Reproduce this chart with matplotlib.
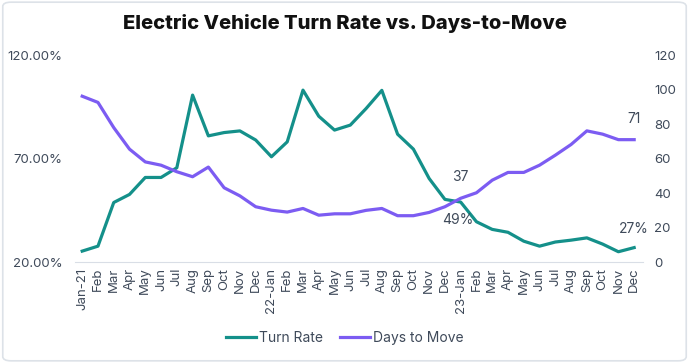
import matplotlib
matplotlib.use("Agg")
import matplotlib.pyplot as plt
from matplotlib.patches import FancyBboxPatch

plt.rcParams['font.family'] = ['Inter', 'DejaVu Sans']

# month labels, Jan-21 .. Dec-23
months = ["Jan-21", "Feb", "Mar", "Apr", "May", "Jun", "Jul", "Aug", "Sep", "Oct", "Nov", "Dec",
          "22-Jan", "Feb", "Mar", "Apr", "May", "Jun", "Jul", "Aug", "Sep", "Oct", "Nov", "Dec",
          "23-Jan", "Feb", "Mar", "Apr", "May", "Jun", "Jul", "Aug", "Sep", "Oct", "Nov", "Dec"]

# turn rate in percent (left axis)
turn_rate = [25.3, 27.7, 48.8, 52.7, 60.9, 60.9, 65.6, 100.7, 81.0, 82.6, 83.4, 79.0,
             70.9, 78.1, 103.1, 90.5, 83.8, 86.2, 94.2, 103.0, 81.8, 74.6, 60.4, 50.3,
             49.0, 39.5, 35.8, 34.4, 30.1, 27.7, 29.7, 30.6, 31.7, 28.7, 25.0, 27.0]

# days to move (right axis)
days_to_move = [96.2, 92.6, 78.0, 65.5, 58.1, 56.2, 52.4, 49.5, 55.1, 43.1, 38.4, 32.1,
                30.1, 29.0, 31.1, 27.2, 28.0, 28.0, 30.0, 31.1, 26.9, 26.9, 28.8, 32.1,
                37.0, 40.2, 47.5, 52.0, 52.0, 56.2, 62.0, 68.2, 76.1, 74.2, 71.0, 71.0]

TEAL = "#14908a"
PURPLE = "#7c5cf2"
TEXT = "#3f4a5a"

fig = plt.figure(figsize=(6.89, 3.63), dpi=100)

# rounded outer border
fig.patches.append(FancyBboxPatch((0.004, 0.006), 0.992, 0.988,
                                  boxstyle="round,pad=0,rounding_size=0.012",
                                  transform=fig.transFigure, fill=False,
                                  edgecolor="#dde2e8", linewidth=1.2))

ax = fig.add_axes([0.109, 0.278, 0.824, 0.570])
ax2 = ax.twinx()

x = list(range(len(months)))
l1, = ax.plot(x, turn_rate, color=TEAL, linewidth=2.3, label="Turn Rate", zorder=3)
l2, = ax2.plot(x, days_to_move, color=PURPLE, linewidth=2.3, label="Days to Move", zorder=2)

ax.set_xlim(-0.45, 35.55)
ax.set_ylim(20, 120)
ax2.set_ylim(0, 120)
ax.set_yticks([20, 70, 120])
ax.set_yticklabels([f"{v:.2f}%" for v in [20, 70, 120]])
ax2.set_yticks(range(0, 121, 20))
ax.set_xticks(x)
ax.set_xticklabels(months, rotation=90)

for a in (ax, ax2):
    for s in a.spines.values():
        s.set_visible(False)
    a.tick_params(length=0, labelsize=9.5, labelcolor=TEXT)
ax.spines['bottom'].set_visible(True)
ax.spines['bottom'].set_color("#d9dee6")
ax.tick_params(axis='y', pad=9)
ax2.tick_params(axis='y', pad=8)
ax.tick_params(axis='x', pad=4)

# data labels
ax2.annotate(f"{days_to_move[24]:.0f}", (24, days_to_move[24]), xytext=(0, 10),
             textcoords="offset points", ha="center", va="bottom", fontsize=10, color=TEXT)
ax.annotate(f"{turn_rate[24]:.0f}%", (24, turn_rate[24]), xytext=(-2, -8),
            textcoords="offset points", ha="center", va="top", fontsize=10, color=TEXT)
ax2.annotate(f"{days_to_move[35]:.0f}", (35, days_to_move[35]), xytext=(0, 10),
             textcoords="offset points", ha="center", va="bottom", fontsize=10, color=TEXT)
ax.annotate(f"{turn_rate[35]:.0f}%", (35, turn_rate[35]), xytext=(0, 8),
            textcoords="offset points", ha="center", va="bottom", fontsize=10, color=TEXT)

fig.text(0.5, 0.935, "Electric Vehicle Turn Rate vs. Days-to-Move", ha="center", va="center",
         fontsize=14.5, fontweight="heavy", color="#111111")

fig.legend([l1, l2], ["Turn Rate", "Days to Move"], loc="center", bbox_to_anchor=(0.5, 0.07),
           ncol=2, frameon=False, fontsize=10, handlelength=2.2, handletextpad=0.2,
           columnspacing=1.2, labelcolor=TEXT)

fig.savefig("out.png", dpi=100)
